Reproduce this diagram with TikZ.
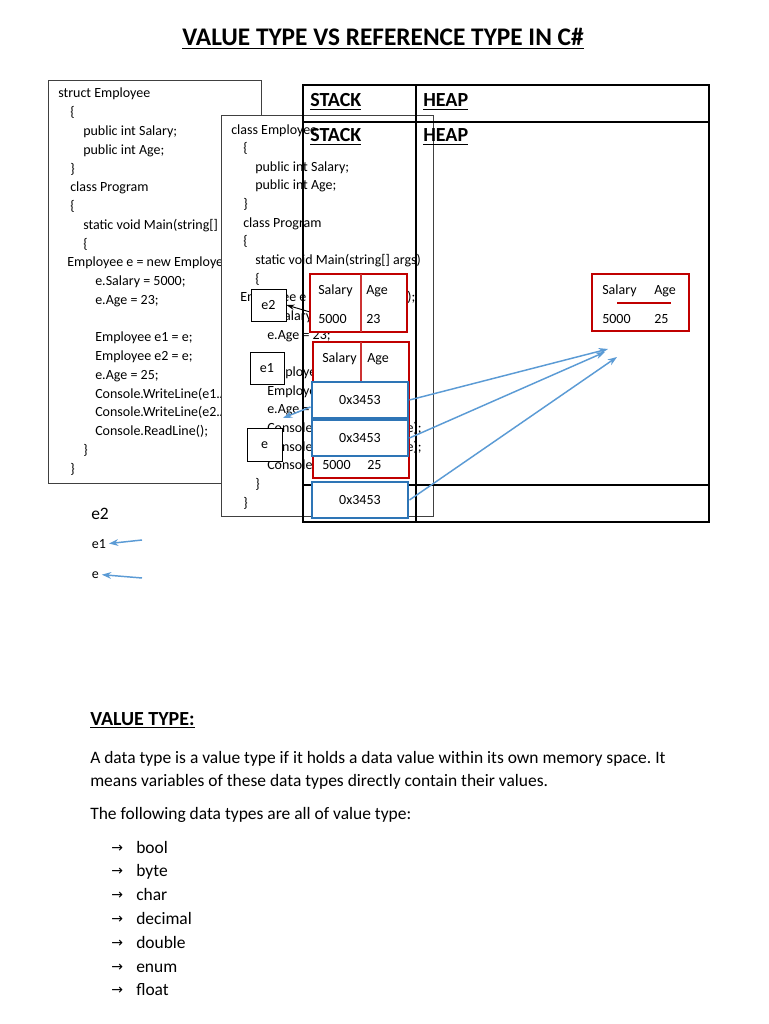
\documentclass[tikz,border=0pt]{standalone}
\usepackage{fontspec}
\setmainfont{Carlito}
\newfontfamily\arrowfont{DejaVu Sans}
\usetikzlibrary{positioning, fit, arrows.meta}
\definecolor{boxred}{HTML}{C00000}
\definecolor{boxblue}{HTML}{2E75B6}
\definecolor{arrowblue}{HTML}{5B9BD5}
\frenchspacing

\begin{document}
\begin{tikzpicture}[
    x=0.75pt, y=-0.75pt,
    codetext/.style={inner sep=0pt, anchor=base west, font=\fontsize{10.5}{12}\selectfont},
    celltext/.style={inner sep=0pt, anchor=base, font=\fontsize{10.5}{12}\selectfont},
    headtext/.style={inner sep=0pt, anchor=base west, font=\fontsize{15}{18}\selectfont\bfseries},
    bodytext/.style={inner sep=0pt, anchor=base west, font=\fontsize{13.1}{18}\selectfont},
    codebox/.style={draw=black!75, line width=0.6pt, fill=white, inner sep=0pt},
    stackline/.style={line width=2.2pt},
    redcell/.style={draw=boxred, line width=1.4pt, fill=white, inner sep=0pt},
    bluecell/.style={draw=boxblue, line width=2.2pt, fill=white, inner sep=0pt},
    varbox/.style={draw, line width=0.6pt, fill=white, inner sep=0pt},
    ptr/.style={-{Stealth[length=7pt, width=5pt]}, draw=arrowblue, line width=1.1pt}
]
\fill[white] (0,0) rectangle (768,1024);
\useasboundingbox (0,0) rectangle (768,1024);

% Title
\node (title) [inner sep=0pt, anchor=base, font=\fontsize{19}{22}\selectfont\bfseries] at (383,46) {\underline{VALUE TYPE VS REFERENCE TYPE IN C\#}};

% Struct listing
\node (struct_box) [codebox, fit={(48,80) (261,483)}] {};
\node (s0) [codetext] at (58,98) {struct Employee};
\foreach \n/\dx/\txt in {1/12/\{, 2/25/public int Salary;, 3/25/public int Age;, 4/12/\}, 5/12/class Program, 6/12/\{,
    7/25/{static void Main(string[] args)}, 8/25/\{, 9/9/Employee e = new Employee();, 10/37/e.Salary = 5000;, 11/37/e.Age = 23;,
    13/37/Employee e1 = e;, 14/37/Employee e2 = e;, 15/37/e.Age = 25;, 16/37/Console.WriteLine(e1.Age);,
    17/37/Console.WriteLine(e2.Age);, 18/37/Console.ReadLine();, 19/25/\}, 20/12/\}}
  \node (s\n) [codetext] at (58+\dx, 98+18.75*\n) {\txt};

% Class listing
\node (class_box) [codebox, fit={(221,115) (433,516)}] {};
\node (c0) [codetext] at (231,134) {class Employee};
\foreach \n/\dx/\txt in {1/12/\{, 2/24/public int Salary;, 3/24/public int Age;, 4/12/\}, 5/12/class Program, 6/12/\{,
    7/24/{static void Main(string[] args)}, 8/24/\{, 9/9/Employee e = new Employee();, 10/36/e.Salary = 5000;, 11/36/e.Age = 23;,
    13/36/Employee e1 = e;, 14/36/Employee e2 = e;, 15/36/e.Age = 25;, 16/36/Console.WriteLine(e1.Age);,
    17/36/Console.WriteLine(e2.Age);, 18/36/Console.ReadLine();, 19/24/\}, 20/12/\}}
  \node (c\n) [codetext] at (231+\dx, 134+18.65*\n) {\txt};

% Stack and heap table
\draw[stackline] (303,85) rectangle (709,522);
\draw[stackline] (303,122) -- (709,122);
\draw[stackline] (303,485) -- (709,485);
\draw[stackline] (416,85) -- (416,522);
\node (stack_a) [headtext] at (310,107) {\underline{STACK}};
\node (heap_a) [headtext] at (423,107) {\underline{HEAP}};
\node (stack_b) [headtext] at (310,142) {\underline{STACK}};
\node (heap_b) [headtext] at (423,142) {\underline{HEAP}};

% Value copies on the stack
\node (R1) [redcell, fit={(310,274) (407,332)}] {};
\draw[boxred!80, line width=1pt] (361,274) -- (361,332);
\node (r1_sal) [codetext] at (318,294) {Salary};
\node (r1_age) [codetext] at (366,294) {Age};
\node (r1_sv) [codetext] at (318,323) {5000};
\node (r1_av) [codetext] at (366,323) {23};

\node (R2) [redcell, fit={(313,342) (409,478)}] {};
\draw[boxred!80, line width=1pt] (361,342) -- (361,382);
\node (r2_sal) [codetext] at (322,362) {Salary};
\node (r2_age) [codetext] at (367,362) {Age};
\node (r2_sv) [codetext] at (322,469) {5000};
\node (r2_av) [codetext] at (367,469) {25};

% References on the stack
\foreach \b/\top in {1/382, 2/420, 3/482} {
  \node (B\b) [bluecell, fit={(312,\top) (408,\top+36)}] {};
  \node (B\b_val) [celltext] at (360,\top+22.5) {0x3453};
}

% Variable names
\node (e2_box) [varbox, fit={(251,289) (286,321)}] {};
\node (e2_name) [celltext] at (268.5,309) {e2};
\node (e1_box) [varbox, fit={(250,352) (284,384)}] {};
\node (e1_name) [celltext] at (267,372) {e1};
\node (e_box) [varbox, fit={(247,428) (282,461)}] {};
\node (e_name) [celltext] at (264.5,448) {e};

% Object on the heap
\node (heap_obj) [redcell, fit={(592,274) (689,331)}] {};
\node (h_sal) [codetext] at (602,294) {Salary};
\node (h_age) [codetext] at (654,294) {Age};
\draw[boxred, line width=1.2pt] (617,303) -- (671,303);
\node (h_sv) [codetext] at (602,323) {5000};
\node (h_av) [codetext] at (654,323) {25};

% Arrows
\coordinate (e_tip) at (283,418);
\coordinate (heap_tip_a) at (608,349);
\coordinate (heap_tip_b) at (605,352);
\coordinate (heap_tip_c) at (617,357);
\draw[-{Stealth[length=6pt, width=4pt]}, line width=0.7pt] (R1.190) -- (e2_box.east);
\draw[ptr] (B1.188) -- (e_tip);
\draw[ptr] (B1.east) -- (heap_tip_a);
\draw[ptr] (B2.east) -- (heap_tip_b);
\draw[ptr] (B3.east) -- (heap_tip_c);

% Labels below
\node (e2_lbl) [inner sep=0pt, anchor=base west, font=\fontsize{13.1}{16}\selectfont] at (91,519) {e2};
\node (e1_lbl) [inner sep=2pt, anchor=base west, font=\fontsize{10.5}{12}\selectfont] at (89,548) {e1};
\node (e_lbl) [inner sep=2pt, anchor=base west, font=\fontsize{10.5}{12}\selectfont] at (89,578) {e};
\coordinate (e1_src) at (142,540);
\coordinate (e_src) at (142,578);
\draw[ptr] (e1_src) -- (e1_lbl.east);
\draw[ptr] (e_src) -- (e_lbl.east);

% Value type text
\node (vt_head) [headtext] at (90,725) {\underline{VALUE TYPE:}};
\node (vt_p1) [bodytext] at (90,763) {A data type is a value type if it holds a data value within its own memory space. It};
\node (vt_p2) [bodytext] at (90,786) {means variables of these data types directly contain their values.};
\node (vt_p3) [bodytext] at (90,819) {The following data types are all of value type:};
\foreach \i/\txt in {0/bool, 1/byte, 2/char, 3/decimal, 4/double, 5/enum, 6/float} {
  \node (arr\i) [inner sep=0pt, anchor=base west, font=\arrowfont\fontsize{10.5}{12}\selectfont] at (111,852+23.8*\i) {→};
  \node (item\i) [bodytext] at (136,853+23.8*\i) {\txt};
}

\end{tikzpicture}
\end{document}
